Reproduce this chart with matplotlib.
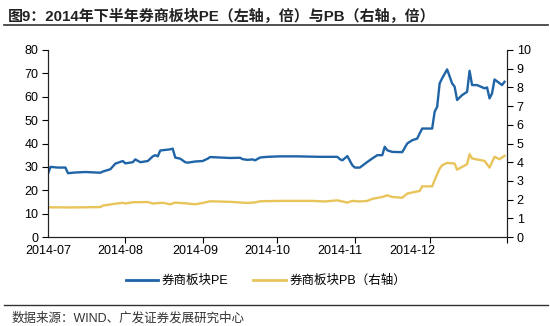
import matplotlib
matplotlib.use("Agg")
import matplotlib.pyplot as plt
import pandas as pd
from matplotlib.lines import Line2D

plt.rcParams['font.family'] = ['Liberation Sans', 'Noto Sans CJK SC']

# ---- data ----
pe_dates = ['2014-07-01', '2014-07-02', '2014-07-05', '2014-07-08', '2014-07-09', '2014-07-12',
            '2014-07-16', '2014-07-22', '2014-07-23', '2014-07-26', '2014-07-28', '2014-07-31',
            '2014-08-01', '2014-08-04', '2014-08-05', '2014-08-07', '2014-08-10', '2014-08-12',
            '2014-08-13', '2014-08-14', '2014-08-15', '2014-08-19', '2014-08-20', '2014-08-21',
            '2014-08-23', '2014-08-25', '2014-08-26', '2014-08-29', '2014-09-01', '2014-09-03',
            '2014-09-04', '2014-09-12', '2014-09-16', '2014-09-17', '2014-09-19', '2014-09-21',
            '2014-09-22', '2014-09-24', '2014-09-27', '2014-10-02', '2014-10-06', '2014-10-09',
            '2014-10-18', '2014-10-25', '2014-10-26', '2014-10-27', '2014-10-29', '2014-10-31',
            '2014-11-01', '2014-11-03', '2014-11-06', '2014-11-08', '2014-11-10', '2014-11-12',
            '2014-11-13', '2014-11-14', '2014-11-16', '2014-11-20', '2014-11-22', '2014-11-24',
            '2014-11-26', '2014-11-27', '2014-11-28', '2014-12-02', '2014-12-03', '2014-12-04',
            '2014-12-05', '2014-12-06', '2014-12-08', '2014-12-10', '2014-12-11', '2014-12-12',
            '2014-12-14', '2014-12-16', '2014-12-17', '2014-12-18', '2014-12-20', '2014-12-23',
            '2014-12-24', '2014-12-25', '2014-12-26', '2014-12-27', '2014-12-30', '2014-12-31']
pe_values = [27.1, 30.0, 29.7, 29.7, 27.3, 27.6,
             27.8, 27.5, 28.0, 29.0, 31.4, 32.5,
             31.5, 32.0, 33.2, 32.0, 32.5, 34.5,
             35.0, 34.5, 37.0, 37.5, 37.8, 34.0,
             33.5, 32.0, 31.8, 32.3, 32.5, 33.5,
             34.2, 33.8, 33.9, 33.3, 33.0, 33.2,
             32.8, 34.0, 34.3, 34.5, 34.5, 34.5,
             34.3, 34.3, 33.3, 32.8, 34.6, 30.7,
             29.7, 29.7, 32.1, 33.6, 35.0, 35.0,
             38.6, 37.1, 36.4, 36.3, 40.0, 41.4,
             42.1, 44.3, 46.4, 46.4, 53.6, 55.7,
             65.7, 67.9, 71.7, 65.7, 64.3, 58.6,
             60.7, 62.1, 71.1, 65.0, 65.0, 63.6,
             64.0, 59.3, 61.4, 67.4, 65.0, 66.4]

pb_dates = ['2014-07-01', '2014-07-10', '2014-07-22', '2014-07-23', '2014-07-28', '2014-07-31',
            '2014-08-01', '2014-08-04', '2014-08-10', '2014-08-12', '2014-08-16', '2014-08-19',
            '2014-08-21', '2014-08-26', '2014-08-29', '2014-09-01', '2014-09-04', '2014-09-12',
            '2014-09-19', '2014-09-22', '2014-09-24', '2014-10-02', '2014-10-15', '2014-10-20',
            '2014-10-25', '2014-10-29', '2014-10-31', '2014-11-03', '2014-11-06', '2014-11-08',
            '2014-11-12', '2014-11-14', '2014-11-16', '2014-11-20', '2014-11-22', '2014-11-25',
            '2014-11-27', '2014-11-28', '2014-12-02', '2014-12-03', '2014-12-05', '2014-12-06',
            '2014-12-08', '2014-12-11', '2014-12-12', '2014-12-14', '2014-12-16', '2014-12-17',
            '2014-12-18', '2014-12-23', '2014-12-25', '2014-12-27', '2014-12-29', '2014-12-31']
pb_values = [1.59, 1.58, 1.60, 1.68, 1.78, 1.83,
             1.79, 1.86, 1.87, 1.79, 1.83, 1.75,
             1.84, 1.79, 1.75, 1.82, 1.91, 1.88,
             1.82, 1.85, 1.91, 1.93, 1.93, 1.90,
             1.96, 1.84, 1.93, 1.90, 1.93, 2.04,
             2.14, 2.23, 2.14, 2.10, 2.32, 2.41,
             2.46, 2.71, 2.71, 3.04, 3.66, 3.84,
             3.96, 3.93, 3.60, 3.75, 3.89, 4.43,
             4.20, 4.07, 3.71, 4.29, 4.16, 4.34]

month_ticks = ['2014-07-01', '2014-08-01', '2014-09-01', '2014-10-01', '2014-11-01', '2014-12-01', '2015-01-01']
label_pos = ['2014-07-01', '2014-07-30', '2014-08-29', '2014-09-27', '2014-10-26', '2014-11-24']
month_labels = ['2014-07', '2014-08', '2014-09', '2014-10', '2014-11', '2014-12']

title = '图9：2014年下半年券商板块PE（左轴，倍）与PB（右轴，倍）'
source = '数据来源：WIND、广发证券发展研究中心'

c_pe = '#1f64a6'
c_pb = '#e8c45a'

# ---- figure ----
fig = plt.figure(figsize=(5.5, 3.26), dpi=100)
ax = fig.add_axes([48 / 550, 89 / 326, 459 / 550, 187 / 326])
ax2 = ax.twinx()

ax.plot(pd.to_datetime(pe_dates), pe_values, color=c_pe, lw=1.7, solid_joinstyle='round')
ax2.plot(pd.to_datetime(pb_dates), pb_values, color=c_pb, lw=1.7, solid_joinstyle='round')

ax.set_xlim(pd.Timestamp('2014-07-01'), pd.Timestamp('2015-01-01'))
ax.set_ylim(0, 80)
ax2.set_ylim(0, 10)
ax.set_yticks(range(0, 81, 10))
ax2.set_yticks(range(0, 11, 1))

# tick marks at month starts, labels placed separately
ax.set_xticks(pd.to_datetime(month_ticks), minor=True)
ax.set_xticks(pd.to_datetime(label_pos))
ax.set_xticklabels(month_labels)
ax.tick_params(axis='x', which='major', length=0, pad=6, labelsize=9)
ax.tick_params(axis='x', which='minor', length=4, width=0.8, direction='out')
ax.tick_params(axis='y', length=4, width=0.8, labelsize=9, pad=3)
ax2.tick_params(axis='y', length=4, width=0.8, labelsize=9, pad=3)

for a in (ax, ax2):
    a.spines['top'].set_visible(False)
    for s in ('left', 'right', 'bottom'):
        a.spines[s].set_linewidth(0.8)
        a.spines[s].set_color('#222222')

# legend
handles = [Line2D([], [], color=c_pe, lw=2.0), Line2D([], [], color=c_pb, lw=2.0)]
fig.legend(handles, ['券商板块PE', '券商板块PB（右轴）'], loc='center',
           bbox_to_anchor=(266 / 550, 1 - 281 / 326), ncol=2, frameon=False,
           fontsize=9, handlelength=2.6, handletextpad=0.3, columnspacing=2.0)

# title and rules
fig.text(8 / 550, 1 - 16 / 326, title, fontsize=10.8, fontweight='bold',
         va='center', ha='left', color='#222222')
fig.add_artist(Line2D([4 / 550, 548 / 550], [1 - 25 / 326] * 2, color='#333333', lw=1.2))
fig.add_artist(Line2D([4 / 550, 548 / 550], [1 - 305 / 326] * 2, color='#333333', lw=1.0))
fig.text(12 / 550, 1 - 318 / 326, source, fontsize=9, va='center', ha='left', color='#333333')

fig.savefig('out.png', dpi=100)
